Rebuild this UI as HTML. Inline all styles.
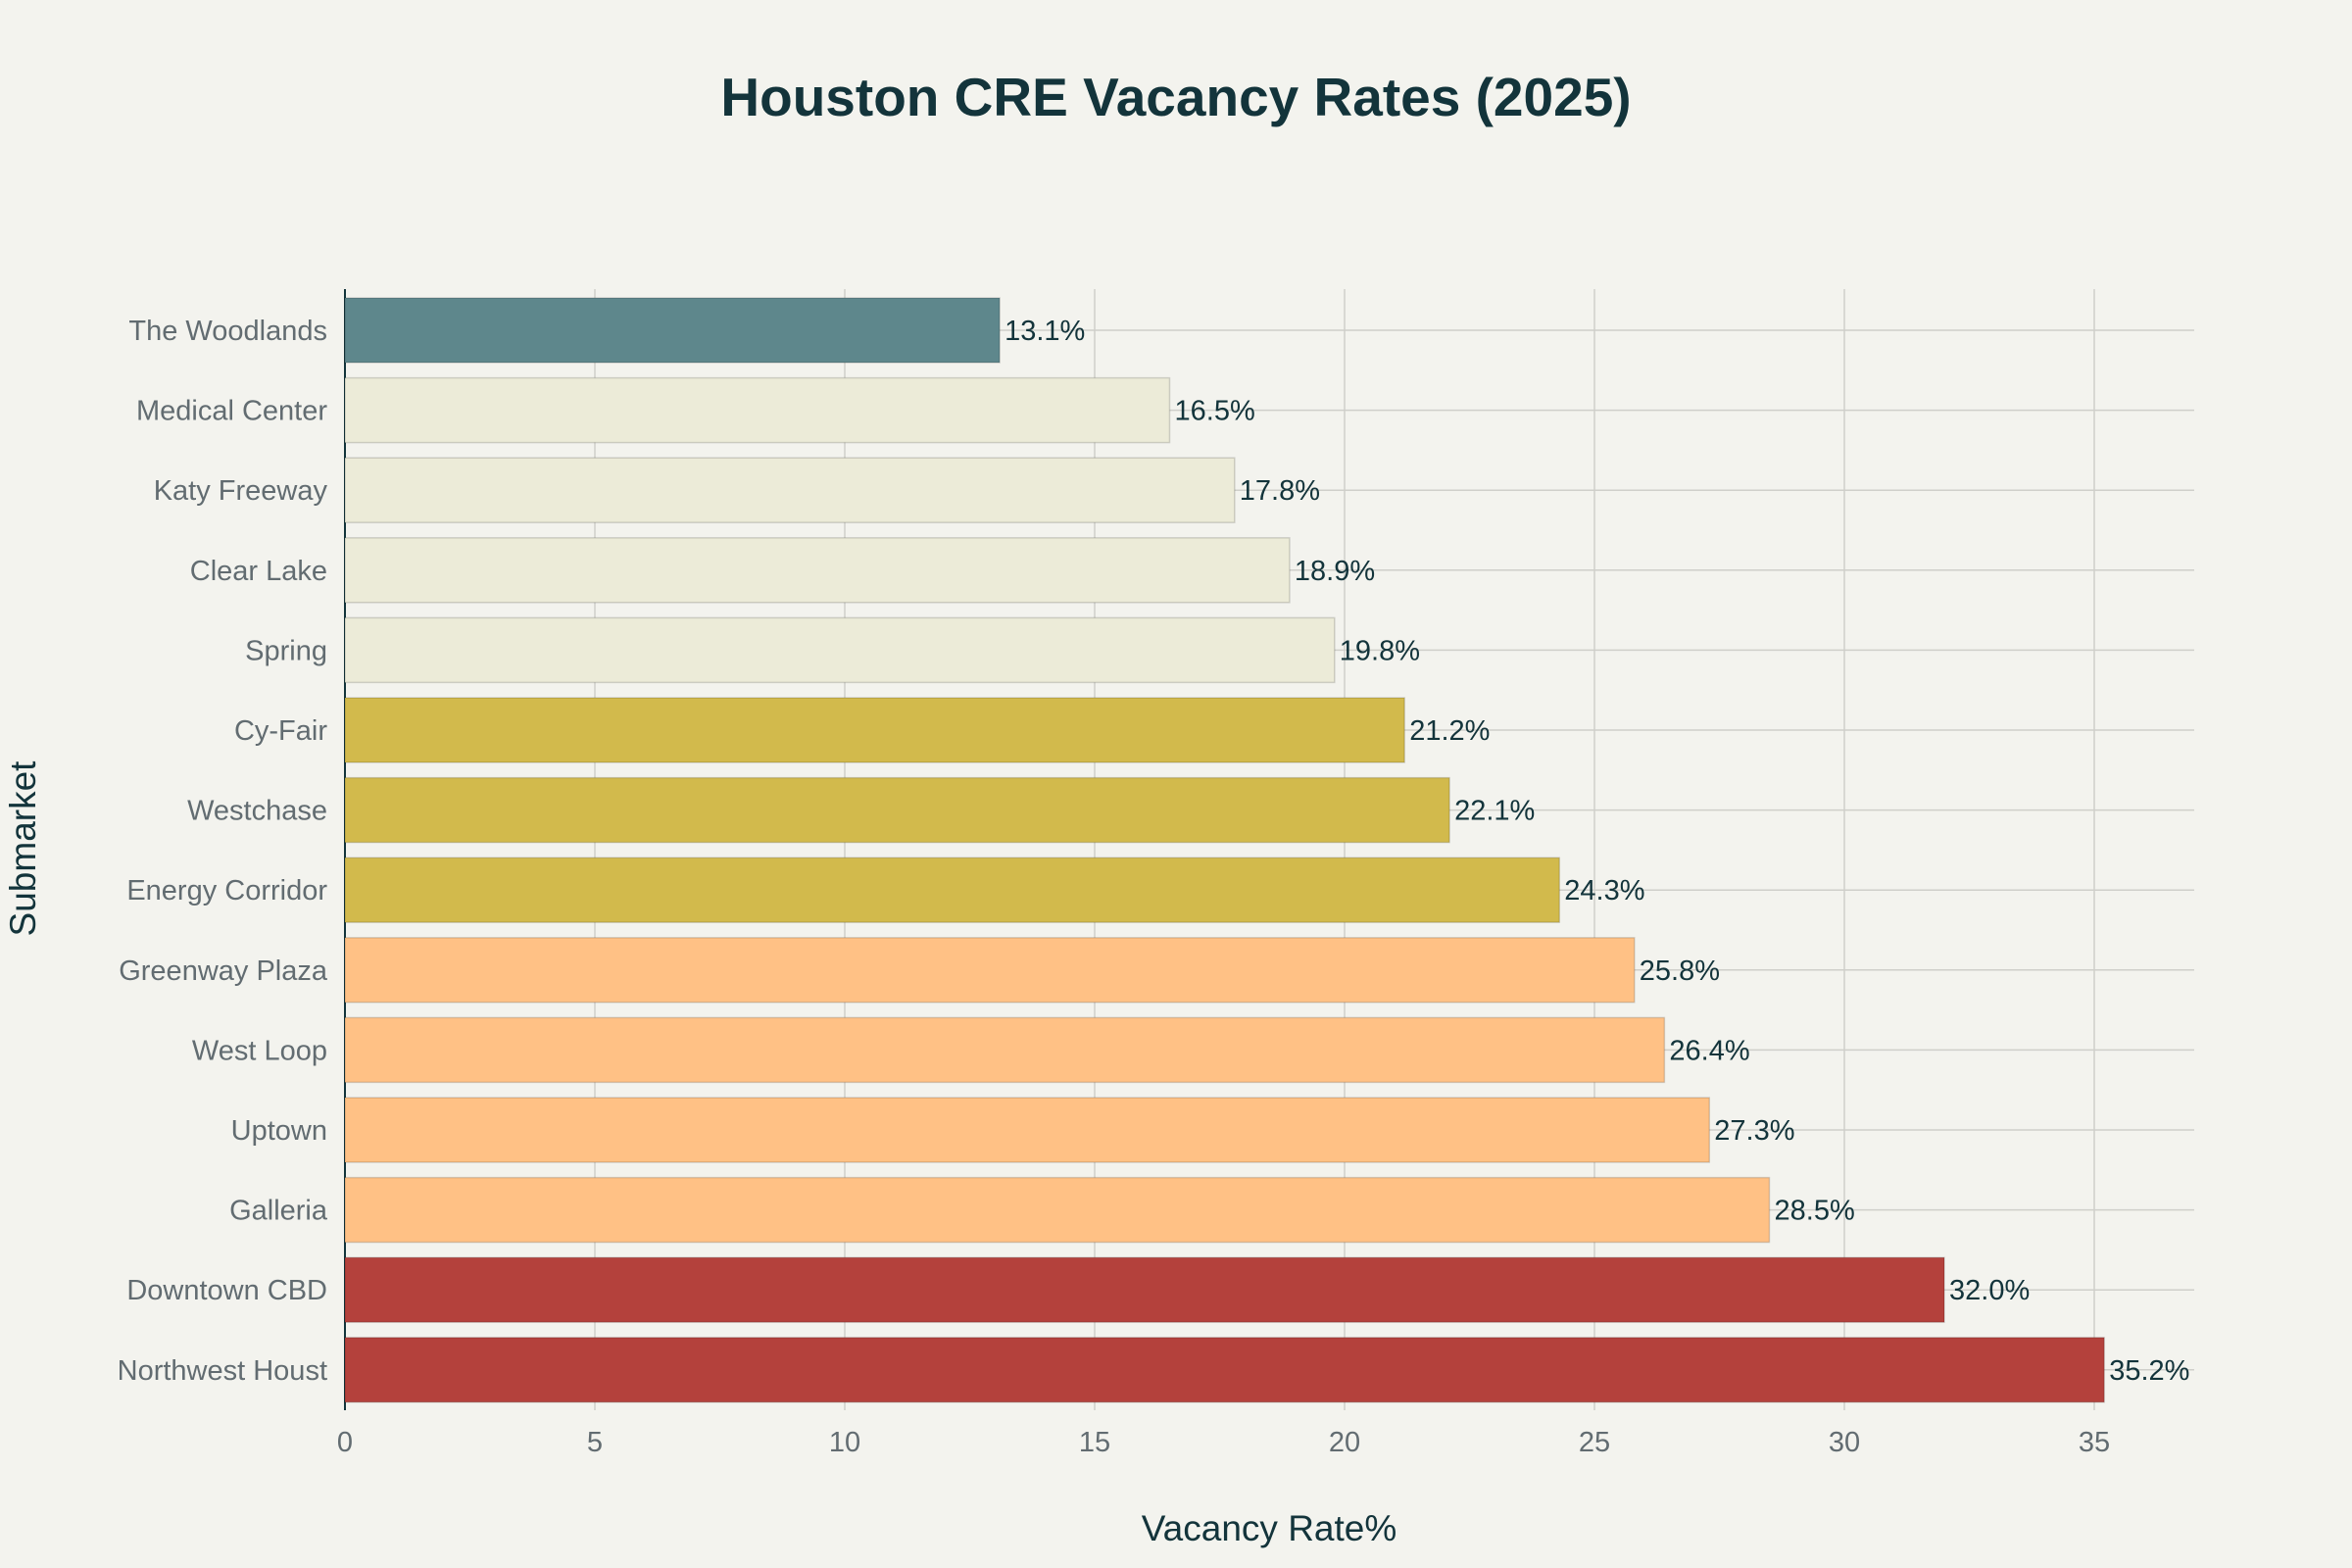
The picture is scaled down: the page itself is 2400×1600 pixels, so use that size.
<!DOCTYPE html>
<html><head><meta charset="utf-8"><style>
body{margin:0;background:#F3F3EE;}
svg{display:block;font-family:"Liberation Sans",sans-serif;}
</style></head><body>
<svg id="chart" width="2400" height="1600">
<rect width="2400" height="1600" fill="#F3F3EE"/>
<text x="1200" y="118" text-anchor="middle" font-size="55" font-weight="bold" fill="#13343B">Houston CRE Vacancy Rates (2025)</text>
<g id="grid"></g><g id="bars"></g><g id="labels"></g>
<text x="1295" y="1572" text-anchor="middle" font-size="37" fill="#13343B">Vacancy Rate%</text>
<text transform="translate(36,866) rotate(-90)" text-anchor="middle" font-size="37" fill="#13343B">Submarket</text>
</svg>
<script>
const categories=["The Woodlands","Medical Center","Katy Freeway","Clear Lake","Spring","Cy-Fair","Westchase","Energy Corridor","Greenway Plaza","West Loop","Uptown","Galleria","Downtown CBD","Northwest Houst"];
const values=[13.1,16.5,17.8,18.9,19.8,21.2,22.1,24.3,25.8,26.4,27.3,28.5,32.0,35.2];
const barColors=["#5E878C","#ECEBD8","#ECEBD8","#ECEBD8","#ECEBD8","#D2BA4C","#D2BA4C","#D2BA4C","#FFC185","#FFC185","#FFC185","#FFC185","#B4413C","#B4413C"];
const xTicks=[0,5,10,15,20,25,30,35];
const NS="http://www.w3.org/2000/svg";
const x0=352,pxPerUnit=51.0,plotRight=2239,plotTop=295,plotBottom=1439;
const y0=337,step=81.6,barH=66;
const xs=v=>x0+v*pxPerUnit;
const ys=i=>y0+i*step;
function mk(tag,attrs,parent){const e=document.createElementNS(NS,tag);for(const k in attrs)e.setAttribute(k,attrs[k]);parent.appendChild(e);return e;}
const grid=document.getElementById('grid'),bars=document.getElementById('bars'),labels=document.getElementById('labels');
xTicks.forEach(t=>{
  const l=mk('line',{x1:xs(t),x2:xs(t),y1:plotTop,y2:plotBottom,stroke:'#CFCFCA','stroke-width':1.5},grid);
  
  
  const tx=mk('text',{x:xs(t),y:plotBottom+42,'text-anchor':'middle','font-size':29,fill:'#626C71'},labels);
  tx.textContent=t;
  
  
});
categories.forEach((c,i)=>{
  const g=mk('line',{x1:x0,x2:plotRight,y1:ys(i),y2:ys(i),stroke:'#CFCFCA','stroke-width':1.5},grid);
  
  
  const r=mk('rect',{x:x0,y:ys(i)-barH/2,width:xs(values[i])-x0,height:barH,fill:barColors[i],stroke:'rgba(0,0,0,0.15)','stroke-width':1.5},bars);
  
  
  const cl=mk('text',{x:334,y:ys(i)+10,'text-anchor':'end','font-size':29,fill:'#626C71'},labels);
  cl.textContent=c;
  
  
  const vl=mk('text',{x:xs(values[i])+5,y:ys(i)+10,'font-size':29,fill:'#13343B'},labels);
  vl.textContent=values[i].toFixed(1)+'%';
  
  
});
const ax=mk('line',{x1:x0,x2:x0,y1:plotTop,y2:plotBottom,stroke:'#13343B','stroke-width':2},grid);


</script>
</body></html>
